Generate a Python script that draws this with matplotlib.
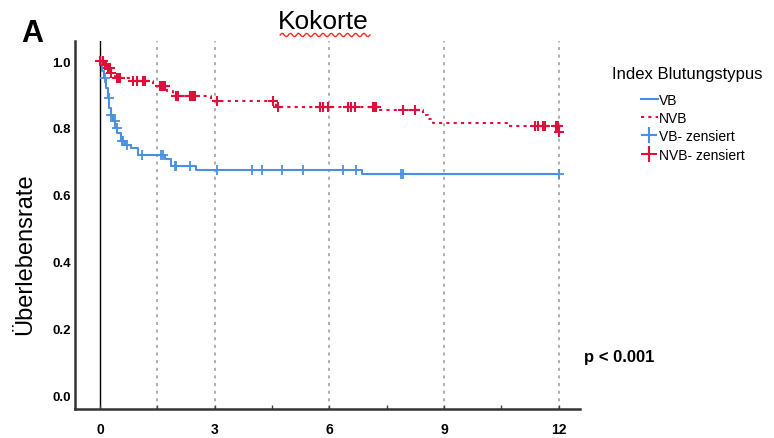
import numpy as np
from matplotlib import pyplot as plt
from matplotlib.lines import Line2D

plt.rcParams['font.family'] = ['Liberation Sans', 'DejaVu Sans']

# step curves (time in months, survival)
vb_t = [0, 0.05, 0.1, 0.15, 0.2, 0.25, 0.3, 0.35, 0.4, 0.45, 0.55, 0.65, 0.8, 1.0, 1.7, 1.85, 2.5, 6.85, 12.0]
vb_s = [1.0, 0.97, 0.95, 0.92, 0.89, 0.86, 0.84, 0.82, 0.80, 0.785, 0.76, 0.75, 0.74, 0.719, 0.707, 0.686, 0.674, 0.662, 0.662]

nvb_t = [0, 0.1, 0.2, 0.3, 0.4, 0.8, 1.4, 1.75, 1.9, 2.9, 4.6, 7.3, 8.45, 8.58, 8.7, 10.65, 12.0]
nvb_s = [1.0, 0.99, 0.98, 0.965, 0.95, 0.94, 0.925, 0.91, 0.897, 0.88, 0.862, 0.853, 0.84, 0.828, 0.816, 0.806, 0.787]

# censored times
vb_cens = [0.13, 0.24, 0.3, 0.39, 0.44, 0.57, 0.61, 0.7, 1.09, 1.61, 1.66, 1.96, 2.0, 2.35,
           3.05, 3.97, 4.23, 4.75, 5.32, 6.36, 6.71, 7.88, 7.93, 12.0]
nvb_cens = [0.0, 0.09, 0.13, 0.17, 0.22, 0.26, 0.3, 0.44, 0.48, 0.52, 0.87, 0.96, 1.13, 1.18,
            1.57, 1.61, 1.66, 1.7, 2.0, 2.05, 2.35, 2.4, 2.44, 2.48, 3.05, 4.53, 4.66,
            5.75, 5.84, 5.97, 6.49, 6.58, 6.67, 7.15, 7.19, 7.23, 7.93, 8.24,
            11.37, 11.46, 11.59, 11.63, 11.94, 11.98]

xticks = [0, 3, 6, 9, 12]
yticks = [0.0, 0.2, 0.4, 0.6, 0.8, 1.0]
vlines = [1.5, 3, 6, 9, 12]

blue = '#4a90e2'
red = '#e0103c'


def surv_at(times, surv, t):
    idx = np.searchsorted(times, t, side='right') - 1
    return np.array(surv)[idx]


fig = plt.figure(figsize=(7.74, 4.39), dpi=100)
ax = fig.add_axes([0.097, 0.066, 0.652, 0.838])

for v in vlines:
    ax.axvline(v, color='#999999', linestyle=(0, (2, 3)), linewidth=1.1, zorder=1)
ax.axvline(0, color='black', linewidth=1.0, zorder=1)

ax.step(vb_t, vb_s, where='post', color=blue, linewidth=1.5, zorder=3)
ax.step(nvb_t, nvb_s, where='post', color=red, linewidth=1.5, linestyle=(0, (1.5, 2)), zorder=3)
ax.plot(vb_cens, surv_at(vb_t, vb_s, vb_cens), linestyle='none', marker='+',
        color=blue, markersize=7, markeredgewidth=1.3, zorder=4)
ax.plot(nvb_cens, surv_at(nvb_t, nvb_s, nvb_cens), linestyle='none', marker='+',
        color=red, markersize=7, markeredgewidth=1.5, zorder=4)
ax.plot([12.0], [0.787], linestyle='none', marker='+', color=red, markersize=7, markeredgewidth=1.5, zorder=4)

ax.set_xlim(-0.65, 12.55)
ax.set_ylim(-0.042, 1.06)
ax.set_xticks(xticks)
ax.set_xticks([1.5, 4.5, 7.5, 10.5], minor=True)
ax.set_yticks(yticks)
ax.set_yticklabels([f'{y:.1f}' for y in yticks])
ax.tick_params(axis='y', labelsize=9.5, length=0, pad=3)
ax.tick_params(axis='x', which='both', labelsize=10, length=3, width=1, color='#444444', direction='in', pad=9)
for lab in ax.get_xticklabels() + ax.get_yticklabels():
    lab.set_fontweight('bold')
for s in ['top', 'right']:
    ax.spines[s].set_visible(False)
for s in ['left', 'bottom']:
    ax.spines[s].set_linewidth(1.8)
    ax.spines[s].set_color('#333333')

ax.set_ylabel('Überlebensrate', fontsize=17)
ax.yaxis.set_label_coords(-0.077, 0.424)

handles = [
    Line2D([], [], color=blue, linewidth=1.5),
    Line2D([], [], color=red, linewidth=1.5, linestyle=(0, (1.5, 2))),
    Line2D([], [], color=blue, marker='+', linestyle='none', markersize=12, markeredgewidth=1.5),
    Line2D([], [], color=red, marker='+', linestyle='none', markersize=12, markeredgewidth=1.5),
]
labels = ['VB', 'NVB', 'VB- zensiert', 'NVB- zensiert']
fig.text(612 / 774, 1 - 75 / 439, 'Index Blutungstypus', fontsize=12, va='center')
fig.legend(handles, labels, loc='upper left', bbox_to_anchor=(641 / 774, 1 - 94 / 439),
           frameon=False, fontsize=10, handlelength=1.2, handletextpad=0.1,
           labelspacing=0.3, borderpad=0, borderaxespad=0)

fig.text(0.418, 0.935, 'Kokorte', fontsize=19, ha='center', va='baseline')
# spell-check squiggle under the title
sx = np.linspace(0.362, 0.478, 60)
sy = 0.918 + 0.004 * np.sin((sx - 0.362) / 0.116 * 2 * np.pi * 11)
fig.add_artist(Line2D(sx, sy, color='#ff2a2a', linewidth=1.0))

fig.text(0.028, 0.905, 'A', fontsize=22, fontweight='bold')
fig.text(0.755, 0.175, 'p < 0.001', fontsize=12, fontweight='bold')

fig.savefig('out.png', dpi=100)
